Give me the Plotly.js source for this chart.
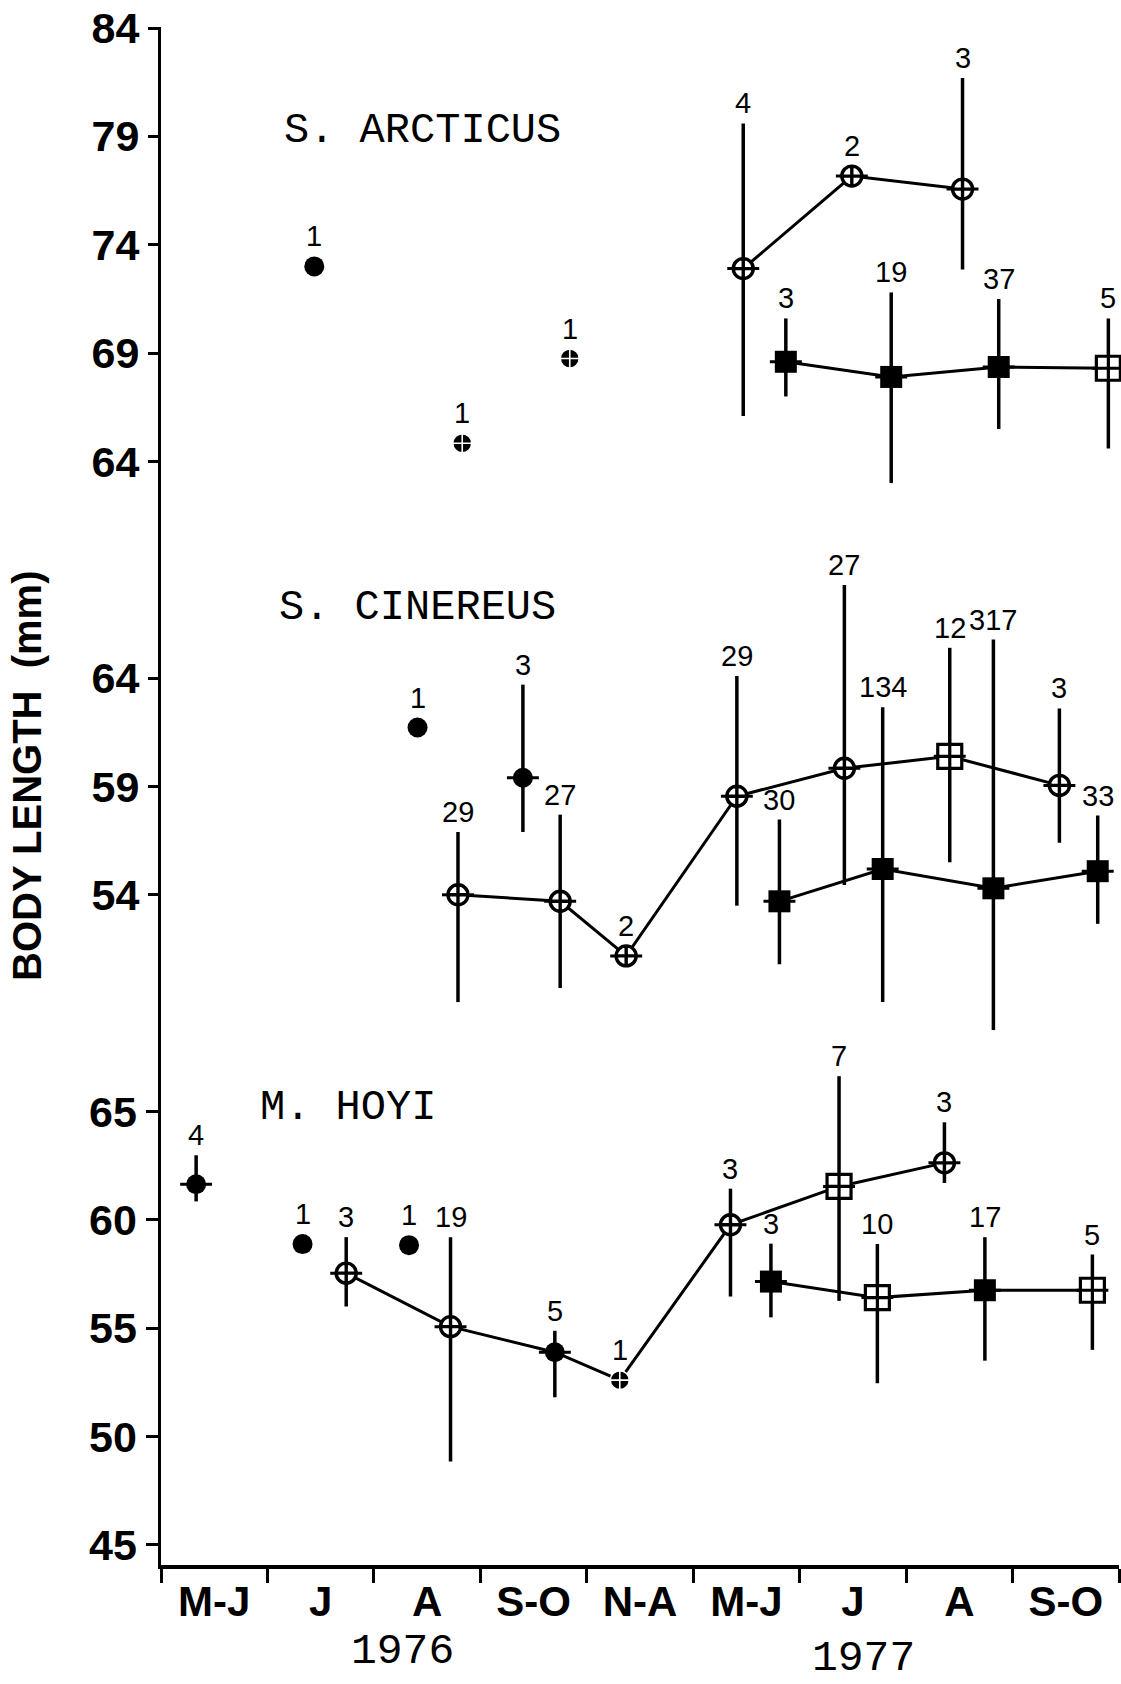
<!DOCTYPE html>
<html>
<head>
<meta charset="utf-8">
<script src="https://cdn.plot.ly/plotly-3.0.1.min.js"></script>
<style>html,body{margin:0;padding:0;background:#fff;}#chart{width:1121px;height:1684px;}</style>
</head>
<body>
<div id="chart"></div>
<script>
// ---- x axis: sampling periods (x = index of period, 0 = start of first period)
const periodLabels = ['M-J','J','A','S-O','N-A','M-J','J','A','S-O'];
const yearLabels = ['1976','1977'];

// ---- tick labels of the three stacked panels
const hoyiTicks = [45, 50, 55, 60, 65];
const cinereusTicks = [54, 59, 64];
const arcticusTicks = [64, 69, 74, 79, 84];

// ---- S. ARCTICUS
const arcSingleX = [1.44];           const arcSingleY = [73.0];  const arcSingleN = [1];
const arcDotX = [2.83, 3.84];        const arcDotY = [64.84, 68.75]; const arcDotN = [1, 1];
const arcCircX = [5.47, 6.49, 7.53];
const arcCircY = [72.9, 77.17, 76.57];
const arcCircHi = [79.6, null, 81.7];
const arcCircLo = [66.1, null, 72.86];
const arcCircN = [4, 2, 3];
const arcSqX = [5.87, 6.86, 7.87, 8.90];
const arcSqY = [68.6, 67.9, 68.36, 68.3];
const arcSqHi = [70.6, 71.8, 71.5, 70.6];
const arcSqLo = [67.0, 63.0, 65.5, 64.6];
const arcSqN = [3, 19, 37, 5];
const arcSqKind = ['fsq', 'fsq', 'fsq', 'osq'];

// ---- S. CINEREUS
const cinSingleX = [2.41]; const cinSingleY = [61.72]; const cinSingleN = [1];
const cinFX = [3.40]; const cinFY = [59.4]; const cinFHi = [63.7]; const cinFLo = [56.9]; const cinFN = [3];
const cinCircX = [2.79, 3.75, 4.37, 5.41, 6.42, 7.41, 8.44];
const cinCircY = [54.0, 53.7, 51.18, 58.55, 59.84, 60.39, 59.05];
const cinCircHi = [56.9, 57.7, null, 64.1, 68.3, 65.4, 62.6];
const cinCircLo = [49.05, 49.7, null, 53.5, 54.45, 55.5, 56.4];
const cinCircN = [29, 27, 2, 29, 27, 12, 3];
const cinCircKind = ['ocirc', 'ocirc', 'ocirc', 'ocirc', 'ocirc', 'osq', 'ocirc'];
const cinSqX = [5.81, 6.78, 7.82, 8.80];
const cinSqY = [53.7, 55.19, 54.3, 55.09];
const cinSqHi = [57.47, 62.66, 65.78, 57.66];
const cinSqLo = [50.8, 49.05, 47.76, 52.66];
const cinSqN = [30, 134, 317, 33];

// ---- M. HOYI
const hoyFX = [0.33]; const hoyFY = [61.64]; const hoyFHi = [62.98]; const hoyFLo = [60.85]; const hoyFN = [4];
const hoySingleX = [1.33, 2.33]; const hoySingleY = [58.88, 58.83]; const hoySingleN = [1, 1];
const hoyCircX = [1.74, 2.72, 3.70, 4.31, 5.35, 6.37, 7.36];
const hoyCircY = [57.54, 55.07, 53.89, 52.6, 59.77, 61.54, 62.63];
const hoyCircHi = [59.2, 59.2, 54.88, null, 61.44, 66.63, 64.5];
const hoyCircLo = [56.0, 48.85, 51.81, null, 56.46, 56.26, 61.7];
const hoyCircN = [3, 19, 5, 1, 3, 7, 3];
const hoyCircKind = ['ocirc', 'ocirc', 'fcirc', 'ddot', 'ocirc', 'osq', 'ocirc'];
const hoySqX = [5.73, 6.73, 7.74, 8.75];
const hoySqY = [57.15, 56.41, 56.75, 56.75];
const hoySqHi = [58.9, 58.88, 59.2, 58.4];
const hoySqLo = [55.5, 52.46, 53.5, 54.0];
const hoySqN = [3, 10, 17, 5];
const hoySqKind = ['fsq', 'osq', 'fsq', 'osq'];

// ---- marker styles
const STY = {
  dot:   {symbol: 'circle',       color: '#000', lc: '#000', lw: 0,   size: 20, ext: 0},
  ddot:  {symbol: 'circle-cross', color: '#000', lc: '#fff', lw: 1.6, size: 19, ext: 0},
  fcirc: {symbol: 'circle',       color: '#000', lc: '#000', lw: 0,   size: 20, ext: 0.15},
  ocirc: {symbol: 'circle-cross', color: '#fff', lc: '#000', lw: 3.4, size: 20, ext: 0.15},
  fsq:   {symbol: 'square',       color: '#000', lc: '#000', lw: 0,   size: 22, ext: 0.15},
  osq:   {symbol: 'square-cross', color: '#fff', lc: '#000', lw: 3.2, size: 24, ext: 0.15}
};

const traces = [];
const annotations = [];

function series(xs, ys, hi, lo, ns, kinds, yax, connect) {
  hi = hi || xs.map(() => null);
  lo = lo || xs.map(() => null);
  const k = kinds.length === 1 ? xs.map(() => kinds[0]) : kinds;
  traces.push({
    type: 'scatter', mode: connect ? 'lines+markers' : 'markers',
    x: xs, y: ys, xaxis: 'x', yaxis: yax, cliponaxis: false, showlegend: false, hoverinfo: 'skip',
    line: {color: '#000', width: 3},
    marker: {
      opacity: 1,
      symbol: k.map(s => STY[s].symbol), color: k.map(s => STY[s].color),
      size: k.map(s => STY[s].size),
      line: {color: k.map(s => STY[s].lc), width: k.map(s => STY[s].lw)}
    },
    error_y: {type: 'data', symmetric: false,
      array: ys.map((v, i) => hi[i] == null ? 0 : hi[i] - v),
      arrayminus: ys.map((v, i) => lo[i] == null ? 0 : v - lo[i]),
      color: '#000', thickness: 3.5, width: 0},
    error_x: {type: 'data', symmetric: true, array: k.map(s => STY[s].ext),
      color: '#000', thickness: 3, width: 0}
  });
  xs.forEach((x, i) => {
    const hasBar = hi[i] != null;
    annotations.push({
      x: x, y: hasBar ? hi[i] : ys[i], xref: 'x', yref: yax,
      text: String(ns[i]), showarrow: false, xanchor: 'center', yanchor: 'bottom',
      yshift: hasBar ? 2 : 12,
      font: {family: 'Liberation Sans, Arial, sans-serif', size: 29, color: '#000'}
    });
  });
}

// arcticus on y3, cinereus on y2, hoyi on y
series(arcSingleX, arcSingleY, null, null, arcSingleN, ['dot'], 'y3', false);
series(arcDotX, arcDotY, null, null, arcDotN, ['ddot'], 'y3', false);
series(arcCircX, arcCircY, arcCircHi, arcCircLo, arcCircN, ['ocirc'], 'y3', true);
series(arcSqX, arcSqY, arcSqHi, arcSqLo, arcSqN, arcSqKind, 'y3', true);

series(cinSingleX, cinSingleY, null, null, cinSingleN, ['dot'], 'y2', false);
series(cinFX, cinFY, cinFHi, cinFLo, cinFN, ['fcirc'], 'y2', false);
series(cinCircX, cinCircY, cinCircHi, cinCircLo, cinCircN, cinCircKind, 'y2', true);
series(cinSqX, cinSqY, cinSqHi, cinSqLo, cinSqN, ['fsq'], 'y2', true);

series(hoyFX, hoyFY, hoyFHi, hoyFLo, hoyFN, ['fcirc'], 'y', false);
series(hoySingleX, hoySingleY, null, null, hoySingleN, ['dot'], 'y', false);
series(hoyCircX, hoyCircY, hoyCircHi, hoyCircLo, hoyCircN, hoyCircKind, 'y', true);
series(hoySqX, hoySqY, hoySqHi, hoySqLo, hoySqN, hoySqKind, 'y', true);

// dummy trace so the label axis exists
traces.push({type: 'scatter', x: [null], y: [null], xaxis: 'x2', yaxis: 'y', showlegend: false, hoverinfo: 'skip'});

const monoFont = 'Liberation Mono, DejaVu Sans Mono, monospace';
const panelFont = {family: monoFont, size: 42, color: '#000'};
annotations.push(
  {x: 1.14, y: 79.27, xref: 'x', yref: 'y3', text: 'S. ARCTICUS', showarrow: false, xanchor: 'left', yanchor: 'middle', font: panelFont},
  {x: 1.09, y: 67.24, xref: 'x', yref: 'y2', text: 'S. CINEREUS', showarrow: false, xanchor: 'left', yanchor: 'middle', font: panelFont},
  {x: 0.91, y: 65.18, xref: 'x', yref: 'y', text: 'M. HOYI', showarrow: false, xanchor: 'left', yanchor: 'middle', font: panelFont},
  {x: 2.27, y: -0.0565, xref: 'x', yref: 'paper', text: yearLabels[0], showarrow: false, xanchor: 'center', yanchor: 'middle',
   font: {family: monoFont, size: 43, color: '#000'}},
  {x: 6.60, y: -0.0605, xref: 'x', yref: 'paper', text: yearLabels[1], showarrow: false, xanchor: 'center', yanchor: 'middle',
   font: {family: monoFont, size: 43, color: '#000'}},
  {x: -0.14, y: 0.513, xref: 'paper', yref: 'paper', text: 'BODY LENGTH  (mm)', textangle: -90, showarrow: false,
   xanchor: 'center', yanchor: 'middle', font: {family: 'Liberation Sans, Arial, sans-serif', size: 40, weight: 'bold', color: '#000'}}
);

const boldTick = {family: 'Liberation Sans, Arial, sans-serif', size: 43, weight: 'bold', color: '#000'};
const yCommon = {showgrid: false, zeroline: false, ticks: 'outside', ticklen: 12, tickwidth: 3, tickcolor: '#000',
  tickfont: boldTick, tickmode: 'array', anchor: 'x', side: 'left', fixedrange: true, ticklabeloverflow: 'allow'};

const boundaries = periodLabels.map((_, i) => i).concat([periodLabels.length]);
const centers = periodLabels.map((_, i) => i + 0.5);

const layout = {
  width: 1121, height: 1684,
  margin: {l: 161, r: 2, t: 27, b: 119},
  paper_bgcolor: '#fff', plot_bgcolor: '#fff',
  showlegend: false,
  xaxis: {range: [0, 9], showgrid: false, zeroline: false, showline: true, linewidth: 3.5, linecolor: '#000',
    tickmode: 'array', tickvals: boundaries, ticks: 'outside', ticklen: 14, tickwidth: 3, tickcolor: '#000',
    showticklabels: false, fixedrange: true},
  xaxis2: {range: [0, 9], overlaying: 'x', anchor: 'y', side: 'bottom', showgrid: false, zeroline: false, showline: false,
    tickmode: 'array', tickvals: centers, ticktext: periodLabels, ticks: '', tickfont: {family: 'Liberation Sans, Arial, sans-serif', size: 42, weight: 'bold', color: '#000'},
    ticklabelstandoff: 8, fixedrange: true},
  yaxis: Object.assign({}, yCommon, {range: [44.07, 115.05], tickvals: hoyiTicks, showline: true, linewidth: 3.5, linecolor: '#000'}),
  yaxis2: Object.assign({}, yCommon, {range: [23.07, 94.05], tickvals: cinereusTicks, overlaying: 'y', showline: false}),
  yaxis3: Object.assign({}, yCommon, {range: [13.07, 84.05], tickvals: arcticusTicks, overlaying: 'y', showline: false}),
  annotations: annotations,
  font: {family: 'Liberation Sans, Arial, sans-serif', color: '#000'}
};

Plotly.newPlot('chart', traces, layout, {displayModeBar: false, staticPlot: true});
</script>
</body>
</html>
